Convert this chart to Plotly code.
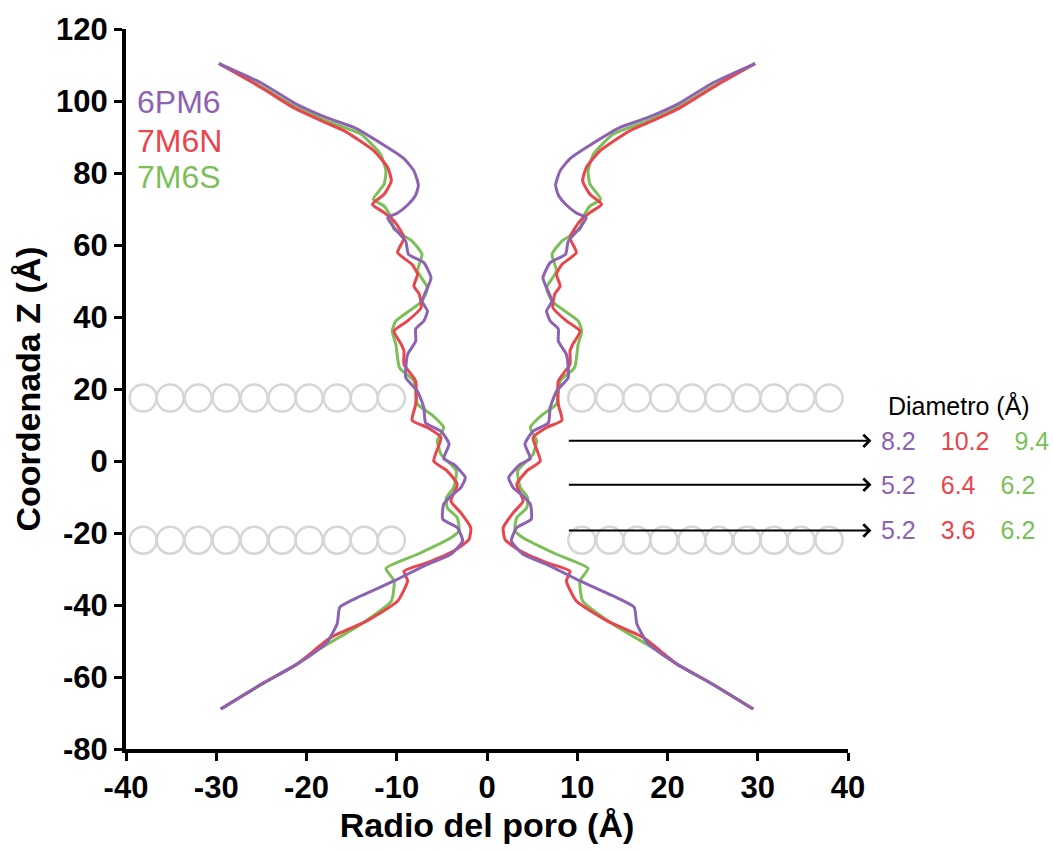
import plotly.graph_objects as go

# ---------------- data ----------------
series_names = ["6PM6", "7M6N", "7M6S"]
series_colors = ["#8E62B2", "#E8454D", "#7CBF58"]

z_6PM6 = [110.4, 105.0, 99.5, 95.3, 92.6, 87.7, 84.0, 80.6, 76.6, 73.9, 71.1, 68.9, 67.6,
          64.8, 61.0, 57.4, 55.1, 50.9, 48.1, 44.4, 41.7, 38.9, 36.7, 33.3, 29.6, 25.9,
          23.1, 19.4, 14.8, 10.6, 8.3, 4.7, 0.6, -0.9, -4.6, -7.4, -9.3, -12.0, -16.2,
          -18.5, -22.2, -25.9, -28.7, -33.3, -37.5, -40.6, -45.2, -50.3, -53.0, -56.5,
          -62.0, -68.9]
r_6PM6 = [29.7, 25.0, 21.4, 17.7, 14.7, 11.4, 9.2, 8.1, 7.6, 7.9, 8.8, 9.9, 11.0,
          10.3, 9.0, 8.7, 7.0, 6.2, 6.6, 7.2, 6.6, 7.0, 7.9, 7.9, 8.8, 9.0,
          9.0, 7.7, 7.0, 6.8, 5.1, 4.2, 4.8, 3.7, 2.4, 2.9, 3.8, 4.8, 4.9,
          3.3, 2.7, 4.0, 6.6, 10.3, 14.0, 16.3, 16.6, 17.7, 19.0, 21.1,
          25.0, 29.5]

z_7M6N = [110.4, 103.7, 98.1, 93.8, 91.7, 86.1, 81.5, 77.8, 74.1, 71.3, 69.0, 66.7, 62.0,
          57.9, 54.6, 51.9, 48.6, 46.3, 42.6, 38.9, 36.1, 32.4, 30.6, 26.9, 22.2, 15.8,
          11.3, 9.3, 6.5, 0.0, -2.8, -6.5, -11.1, -14.4, -18.5, -21.8, -25.0, -28.2,
          -30.6, -33.3, -38.9, -44.4, -49.0, -54.2, -56.5, -62.0, -68.9]
r_7M6N = [29.7, 25.0, 21.4, 17.7, 15.8, 12.5, 11.0, 10.6, 11.4, 12.7, 11.4, 10.3, 9.2,
          9.9, 8.3, 7.7, 8.1, 7.5, 7.3, 8.8, 10.3, 9.5, 9.2, 9.2, 7.9, 7.9,
          8.3, 6.6, 5.1, 5.9, 4.4, 3.3, 4.0, 2.9, 1.8, 2.0, 3.7, 6.6,
          9.2, 8.8, 9.9, 13.3, 17.3, 19.9, 21.1, 25.0, 29.5]

z_7M6S = [110.4, 104.0, 98.6, 94.4, 90.8, 85.2, 80.6, 76.9, 72.7, 70.8, 67.6, 64.4, 61.1,
          57.4, 52.8, 48.1, 44.4, 42.6, 38.9, 36.1, 32.4, 25.9, 22.2, 15.8, 13.0, 9.3,
          5.6, 1.9, -2.8, -7.4, -10.2, -13.0, -15.7, -19.4, -21.3, -25.9, -29.8, -33.3,
          -38.9, -45.4, -50.9, -54.2, -56.5, -62.0, -68.9]
r_7M6S = [29.7, 25.0, 21.4, 17.7, 14.0, 11.8, 11.2, 11.4, 12.6, 11.4, 10.6, 10.3, 8.3,
          7.2, 7.7, 6.6, 7.2, 8.1, 10.1, 10.5, 10.1, 9.7, 8.1, 7.7, 6.2, 4.8,
          5.5, 5.1, 3.4, 3.7, 4.5, 4.4, 3.3, 3.1, 4.0, 7.7, 11.2, 10.3,
          10.6, 14.0, 17.7, 19.9, 21.1, 25.0, 29.5]

# membrane (lipid head groups)
lipid_x_left = [-38.1, -35.1, -32.0, -28.9, -25.8, -22.7, -19.7, -16.6, -13.6, -10.6]
lipid_x_right = [10.5, 13.6, 16.6, 19.6, 22.7, 25.7, 28.8, 31.8, 34.8, 37.9]
lipid_z = [17.5, -22.0]

# constriction sites and diameters (Å)
site_z = [5.6, -6.6, -19.3]
arrow_x_start = 8.9
arrow_x_end = 42.6
diam_6PM6 = ["8.2", "5.2", "5.2"]
diam_7M6N = ["10.2", "6.4", "3.6"]
diam_7M6S = ["9.4", "6.2", "6.2"]

x_ticks = [-40, -30, -20, -10, 0, 10, 20, 30, 40]
x_ticktext = ["-40", "-30", "-20", "-10", "0", "10", "20", "30", "40"]
y_ticks = [-80, -60, -40, -20, 0, 20, 40, 60, 80, 100, 120]
y_ticktext = ["-80", "-60", "-40", "-20", "0", "20", "40", "60", "80", "100", "120"]

FONT = "Liberation Sans, Arial, sans-serif"

# ---------------- figure ----------------
fig = go.Figure()

# lipid circles
for zz in lipid_z:
    xs = lipid_x_left + lipid_x_right
    fig.add_trace(go.Scatter(
        x=xs, y=[zz] * len(xs), mode="markers",
        marker=dict(symbol="circle-open", size=27, color="#D6D6D6",
                    line=dict(width=2.5, color="#D6D6D6")),
        showlegend=False, hoverinfo="skip"))

profiles = [(z_7M6S, r_7M6S), (z_7M6N, r_7M6N), (z_6PM6, r_6PM6)]
colors_order = [series_colors[2], series_colors[1], series_colors[0]]
names_order = [series_names[2], series_names[1], series_names[0]]
for (zz, rr), col, nm in zip(profiles, colors_order, names_order):
    for sign in (-1, 1):
        fig.add_trace(go.Scatter(
            x=[sign * v for v in rr], y=zz, mode="lines",
            line=dict(color=col, width=3, shape="spline", smoothing=0.5),
            name=nm, showlegend=False))

annotations = []
# legend texts
legend_y = [0.898, 0.845, 0.794]
for nm, col, ly in zip(series_names, series_colors, legend_y):
    annotations.append(dict(xref="paper", yref="paper", x=0.012, y=ly,
                            text=nm, showarrow=False, xanchor="left", yanchor="middle",
                            font=dict(family=FONT, size=32, color=col)))

# arrows
for zz in site_z:
    annotations.append(dict(xref="x", yref="y", axref="x", ayref="y",
                            x=arrow_x_end, y=zz, ax=arrow_x_start, ay=zz,
                            text="", showarrow=True, arrowhead=4, arrowsize=1.2,
                            arrowwidth=2, arrowcolor="black"))

# diameter header
annotations.append(dict(xref="paper", yref="y", x=1.053, y=15.3, text="Diametro (Å)",
                        showarrow=False, xanchor="left", yanchor="middle",
                        font=dict(family=FONT, size=25, color="black")))
sp = "\u2002\u2002"
for i, zz in enumerate(site_z):
    txt = (f"<span style='color:{series_colors[0]}'>{diam_6PM6[i]}</span>{sp}"
           f"<span style='color:{series_colors[1]}'>{diam_7M6N[i]}</span>{sp}"
           f"<span style='color:{series_colors[2]}'>{diam_7M6S[i]}</span>")
    annotations.append(dict(xref="paper", yref="y", x=1.043, y=zz, text=txt,
                            showarrow=False, xanchor="left", yanchor="middle",
                            font=dict(family=FONT, size=25)))

axis_common = dict(showgrid=False, zeroline=False, showline=True, linecolor="black",
                   linewidth=4, ticks="outside", ticklen=8, tickwidth=3, tickcolor="black",
                   tickfont=dict(family=FONT, size=31, color="black", weight="bold"))

fig.update_layout(
    width=1053, height=851,
    margin=dict(l=126, r=205, t=27, b=102),
    plot_bgcolor="white", paper_bgcolor="white",
    showlegend=False,
    xaxis=dict(range=[-40, 40], tickmode="array", tickvals=x_ticks, ticktext=x_ticktext,
               title=dict(text="Radio del poro (Å)", standoff=10,
                          font=dict(family=FONT, size=34, color="black", weight="bold")),
               **axis_common),
    yaxis=dict(range=[-80, 120], tickmode="array", tickvals=y_ticks, ticktext=y_ticktext,
               title=dict(text="Coordenada Z (Å)", standoff=6,
                          font=dict(family=FONT, size=34, color="black", weight="bold")),
               **axis_common),
    annotations=annotations,
)

fig.write_html("out.html")
